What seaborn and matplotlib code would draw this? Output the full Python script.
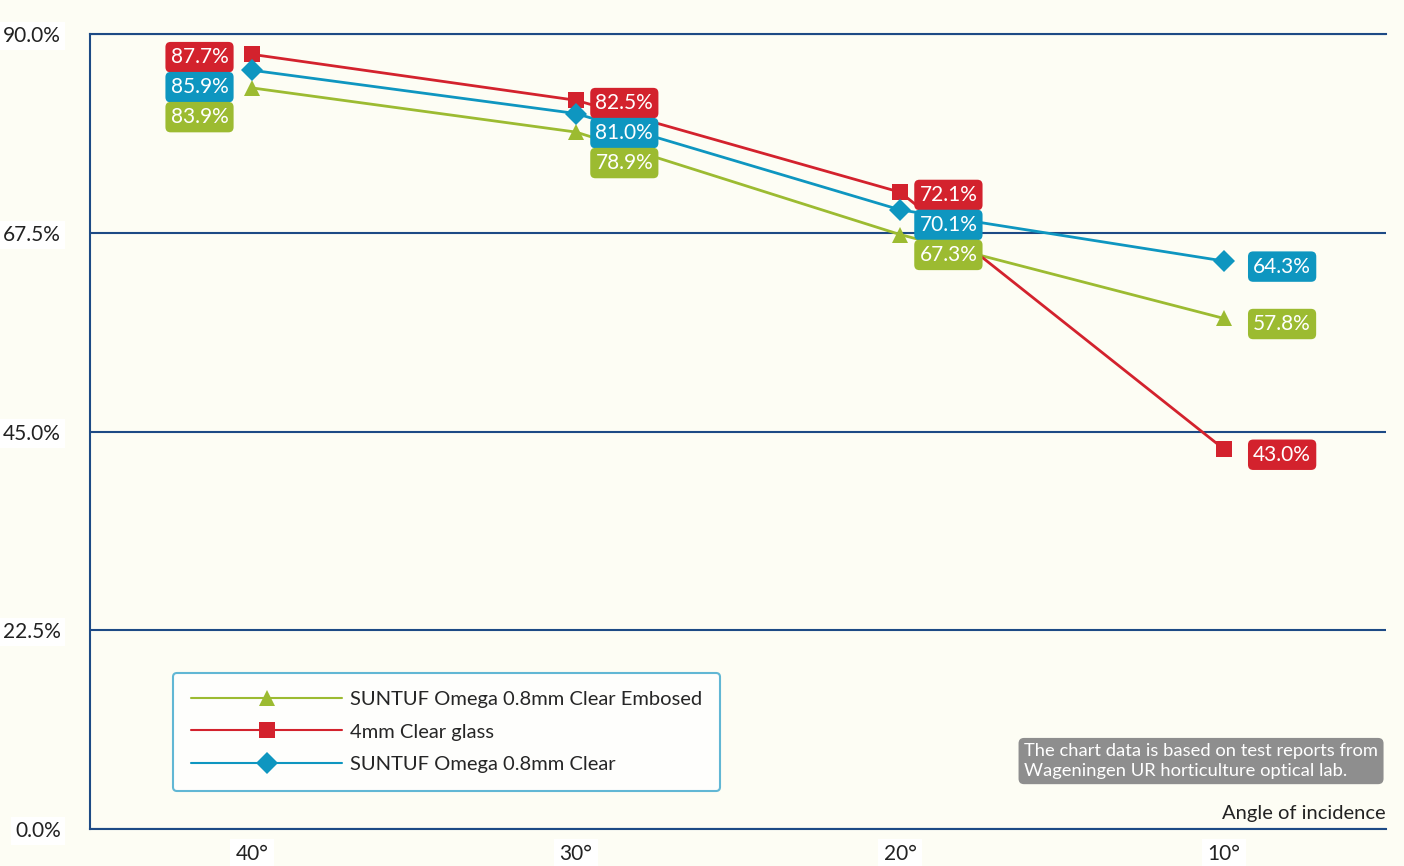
import numpy as np
import pandas as pd
import matplotlib.pyplot as plt
import seaborn as sns

# du lieu doc tu hinh
angles = ['40°', '30°', '20°', '10°']
embossed = [83.9, 78.9, 67.3, 57.8]   # SUNTUF Omega 0.8mm Clear Embosed
glass = [87.7, 82.5, 72.1, 43.0]      # 4mm Clear glass
clear = [85.9, 81.0, 70.1, 64.3]      # SUNTUF Omega 0.8mm Clear
names = ['SUNTUF Omega 0.8mm Clear Embosed', '4mm Clear glass', 'SUNTUF Omega 0.8mm Clear']
y_ticks = [0, 22.5, 45, 67.5, 90]

colors = ['#9CBB31', '#D3222D', '#0E96C0']
navy = '#1D4A85'
bg = '#FDFDF4'

df = pd.DataFrame({
    'x': list(range(len(angles))) * 3,
    'value': embossed + glass + clear,
    'series': [n for n in names for _ in angles],
})

sns.set_style('white')
plt.rcParams['font.family'] = ['Lato', 'DejaVu Sans']

fig, ax = plt.subplots(figsize=(14.04, 8.66), dpi=100)
fig.patch.set_facecolor(bg)
ax.set_facecolor(bg)
fig.subplots_adjust(left=0.0641, right=0.9872, top=0.9607, bottom=0.0427)

sns.lineplot(data=df, x='x', y='value', hue='series', style='series',
             hue_order=names, style_order=names, palette=colors,
             markers={names[0]: '^', names[1]: 's', names[2]: 'D'},
             dashes=False, linewidth=2, markersize=11, markeredgewidth=0,
             ax=ax, zorder=3)

ax.set_xlim(-0.5, 3.5)
ax.set_ylim(0, 90)

# truc x: vach chia o bien, nhan o giua
ax.set_xticks(np.arange(-0.5, 4, 1.0))
ax.set_xticklabels([])
ax.set_xticks(range(len(angles)), minor=True)
ax.set_xticklabels(angles, minor=True, fontsize=15, color='#222222')
ax.tick_params(axis='x', which='major', direction='out', length=8, width=1.5, color=navy)
ax.tick_params(axis='x', which='minor', length=0, pad=11)
for lbl in ax.get_xticklabels(minor=True):
    lbl.set_bbox(dict(facecolor='white', edgecolor='none', pad=4))

# truc y
ax.set_yticks(y_ticks)
ax.set_yticklabels([f'{v:.1f}%' for v in y_ticks], fontsize=15, color='#222222')
ax.tick_params(axis='y', direction='out', length=7, width=1.5, color=navy, pad=14)
for lbl in ax.get_yticklabels():
    lbl.set_bbox(dict(facecolor='white', edgecolor='none', pad=3))
ax.yaxis.grid(True, color=navy, linewidth=1.5)
ax.set_axisbelow(True)

for side in ['left', 'bottom', 'top']:
    ax.spines[side].set_color(navy)
    ax.spines[side].set_linewidth(1.5)
ax.spines['right'].set_visible(False)

ax.set_xlabel('')
ax.set_ylabel('')

# nhan gia tri
series_vals = [embossed, glass, clear]
for i in range(len(angles)):
    col = sorted([(vals[i], c) for vals, c in zip(series_vals, colors)], reverse=True)
    for k, (v, c) in enumerate(col):
        if i < 3:
            y_anchor = col[0][0]
            dy = -2 - k * 21.6
            dx = -17 if i == 0 else 14
            ha = 'right' if i == 0 else 'left'
        else:
            y_anchor = v
            dy = -4
            dx = 21
            ha = 'left'
        ax.annotate(f'{v:.1f}%', xy=(i, y_anchor), xytext=(dx, dy),
                    textcoords='offset points', ha=ha, va='center',
                    fontsize=15, color='white', zorder=5,
                    bbox=dict(boxstyle='round,pad=0.25,rounding_size=0.25',
                              facecolor=c, edgecolor='none'))

# chu thich
handles, labels = ax.get_legend_handles_labels()
leg = ax.legend(handles, labels, loc='lower left', bbox_to_anchor=(0.064, 0.048),
                borderaxespad=0, fontsize=14.5, handlelength=7.5, handletextpad=0.4,
                labelspacing=0.75, borderpad=0.9, frameon=True, fancybox=True)
leg.get_frame().set_edgecolor('#3AA6CC')
leg.get_frame().set_linewidth(1.5)
leg.get_frame().set_facecolor('white')
for line in leg.get_lines():
    line.set_linewidth(1.5)

ax.text(1.0, 0.009, 'Angle of incidence', transform=ax.transAxes,
        ha='right', va='bottom', fontsize=14.5, color='#222222')

ax.text(0.7207, 0.0855,
        'The chart data is based on test reports from\nWageningen UR horticulture optical lab.',
        transform=ax.transAxes, ha='left', va='center', fontsize=13.2,
        color='white', linespacing=1.25,
        bbox=dict(boxstyle='round,pad=0.3,rounding_size=0.3',
                  facecolor='#8E8E8E', edgecolor='none'))

plt.savefig('out.png', dpi=100, facecolor=bg)
